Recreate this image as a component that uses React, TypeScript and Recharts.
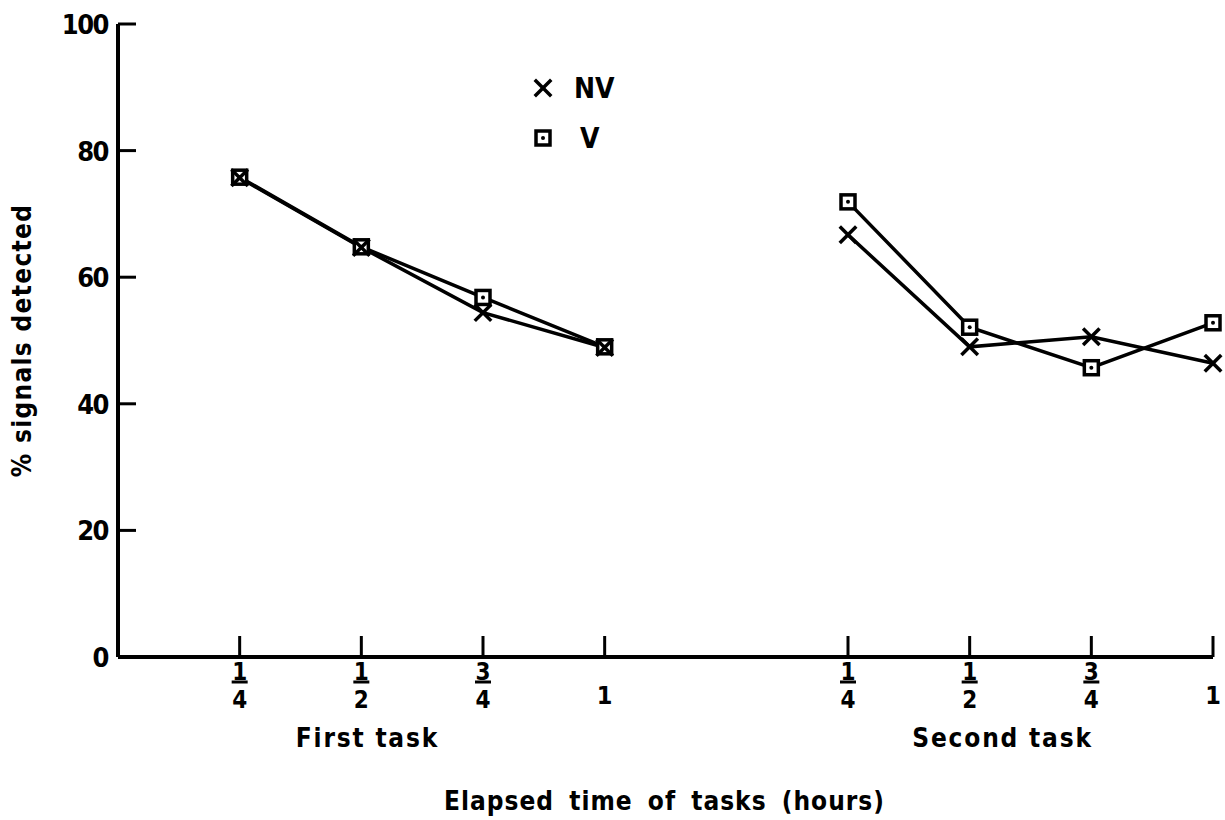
import { LineChart, Line, XAxis, YAxis, Legend } from "recharts";

// x positions: 1-4 first task, 6-9 second task (5 = gap between tasks)
const X_POS = [1, 2, 3, 4, 5, 6, 7, 8, 9];
const NV = [75.7, 64.7, 54.4, 48.9, null, 66.7, 49.0, 50.6, 46.4];
const V = [75.8, 64.8, 56.8, 49.0, null, 71.9, 52.1, 45.7, 52.8];

const X_TICKS = [1, 2, 3, 4, 6, 7, 8, 9];
const X_TICK_LABELS = ["1/4", "1/2", "3/4", "1", "1/4", "1/2", "3/4", "1"];
const TASK_POS = [2.05, 7.27];
const TASK_LABELS = ["First task", "Second task"];
const Y_TICKS = [0, 20, 40, 60, 80, 100];

const FONT = "'DejaVu Sans Condensed', 'DejaVu Sans', sans-serif";
const INK = "#000";

const data = X_POS.map((x, i) => ({ x, nv: NV[i], v: V[i] }));

function XTick(props: any) {
  const { x, y, payload } = props;
  const ti = TASK_POS.indexOf(payload.value);
  if (ti >= 0) {
    return (
      <text
        x={x}
        y={y + 90}
        textAnchor="middle"
        fontFamily={FONT}
        fontWeight="bold"
        fontSize={26}
        letterSpacing={1.8}
        fill={INK}
      >
        {TASK_LABELS[ti]}
      </text>
    );
  }
  const label = X_TICK_LABELS[X_TICKS.indexOf(payload.value)] ?? "";
  const [num, den] = label.split("/");
  return (
    <g>
      <line x1={x} y1={y} x2={x} y2={y - 21} stroke={INK} strokeWidth={3} />
      {den ? (
        <g fontFamily={FONT} fontWeight="bold" fontSize={24} fill={INK} textAnchor="middle">
          <text x={x} y={y + 23}>{num}</text>
          <line x1={x - 8} y1={y + 25} x2={x + 8} y2={y + 25} stroke={INK} strokeWidth={3} />
          <text x={x} y={y + 51}>{den}</text>
        </g>
      ) : (
        <text x={x} y={y + 47} fontFamily={FONT} fontWeight="bold" fontSize={25} fill={INK} textAnchor="middle">
          {num}
        </text>
      )}
    </g>
  );
}

function YTick(props: any) {
  const { x, y, payload } = props;
  return (
    <g>
      <line x1={x} y1={y} x2={x + 18} y2={y} stroke={INK} strokeWidth={3} />
      <text
        x={x - 10}
        y={y}
        dy={10}
        textAnchor="end"
        fontFamily={FONT}
        fontWeight="bold"
        fontSize={27}
        letterSpacing={-1.5}
        fill={INK}
      >
        {payload.value}
      </text>
    </g>
  );
}

function Cross({ cx, cy, s = 7 }: { cx: number; cy: number; s?: number }) {
  return (
    <g stroke={INK} strokeWidth={3.5} strokeLinecap="square">
      <line x1={cx - s} y1={cy - s} x2={cx + s} y2={cy + s} />
      <line x1={cx - s} y1={cy + s} x2={cx + s} y2={cy - s} />
    </g>
  );
}

function Box({ cx, cy, s = 7 }: { cx: number; cy: number; s?: number }) {
  return (
    <g>
      <rect x={cx - s} y={cy - s} width={s * 2} height={s * 2} fill="#fff" stroke={INK} strokeWidth={3.5} />
      <circle cx={cx} cy={cy} r={2} fill={INK} />
    </g>
  );
}

const nvDot = (p: any) =>
  p.value == null ? <g key={p.index} /> : <Cross key={p.index} cx={p.cx} cy={p.cy} />;
const vDot = (p: any) =>
  p.value == null ? <g key={p.index} /> : <Box key={p.index} cx={p.cx} cy={p.cy} />;

function LegendBox() {
  const row = { display: "flex", alignItems: "center", height: 50 } as const;
  const txt = { fontFamily: FONT, fontWeight: "bold", fontSize: 28, marginLeft: 16 } as const;
  return (
    <div>
      <div style={row}>
        <svg width={30} height={30}>
          <Cross cx={15} cy={15} s={7} />
        </svg>
        <span style={txt}>NV</span>
      </div>
      <div style={row}>
        <svg width={30} height={30}>
          <Box cx={15} cy={15} s={7} />
        </svg>
        <span style={{ ...txt, marginLeft: 22 }}>V</span>
      </div>
    </div>
  );
}

export default function App() {
  return (
    <div style={{ position: "absolute", left: 0, top: 0, background: "#fff" }}>
      <LineChart width={1225} height={820} data={data} margin={{ top: 24, right: 12, left: 0, bottom: 0 }}>
        <XAxis
          dataKey="x"
          type="number"
          domain={[0, 9]}
          ticks={[...X_TICKS, ...TASK_POS].sort((a, b) => a - b)}
          interval={0}
          height={163}
          tickSize={0}
          tickMargin={0}
          tickLine={false}
          tick={<XTick />}
          axisLine={{ stroke: INK, strokeWidth: 4 }}
          label={(p: any) => {
            const vb = p.viewBox;
            return (
              <text
                x={vb.x + vb.width / 2 - 1}
                y={vb.y + 153}
                textAnchor="middle"
                fontFamily={FONT}
                fontWeight="bold"
                fontSize={26}
                letterSpacing={1}
                fill={INK}
                style={{ wordSpacing: 6 }}
              >
                Elapsed time of tasks (hours)
              </text>
            );
          }}
        />
        <YAxis
          type="number"
          domain={[0, 100]}
          ticks={Y_TICKS}
          width={118}
          tickSize={0}
          tickMargin={0}
          tickLine={false}
          tick={<YTick />}
          axisLine={{ stroke: INK, strokeWidth: 4 }}
          label={(p: any) => {
            const vb = p.viewBox;
            const cx = 31;
            const cy = vb.y + vb.height / 2;
            return (
              <text
                x={cx}
                y={cy}
                transform={`rotate(-90 ${cx} ${cy})`}
                textAnchor="middle"
                fontFamily={FONT}
                fontWeight="bold"
                fontSize={26}
                letterSpacing={1.3}
                fill={INK}
              >
                % signals detected
              </text>
            );
          }}
        />
        <Legend
          layout="vertical"
          verticalAlign="middle"
          align="center"
          wrapperStyle={{ left: 528, top: 63, width: 150 }}
          content={<LegendBox />}
        />
        <Line
          dataKey="v"
          stroke={INK}
          strokeWidth={3.5}
          dot={vDot}
          activeDot={false}
          isAnimationActive={false}
          connectNulls={false}
          legendType="none"
        />
        <Line
          dataKey="nv"
          stroke={INK}
          strokeWidth={3.5}
          dot={nvDot}
          activeDot={false}
          isAnimationActive={false}
          connectNulls={false}
          legendType="none"
        />
      </LineChart>
    </div>
  );
}
